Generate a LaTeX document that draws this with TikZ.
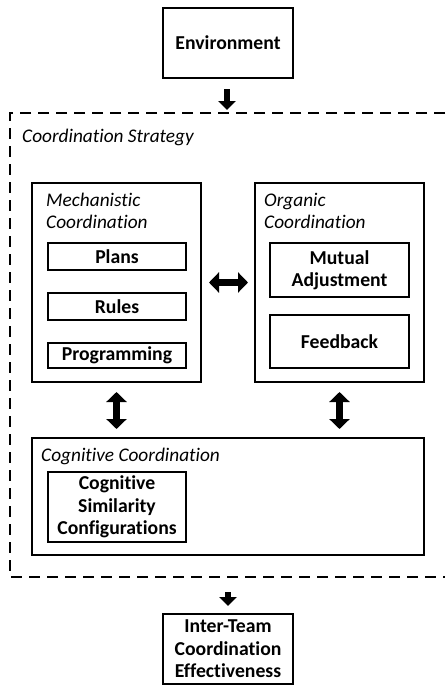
\documentclass[tikz,border=0pt]{standalone}
\usepackage{fontspec}
\setmainfont{Carlito}[Ligatures=NoCommon]
\usetikzlibrary{arrows.meta}

\begin{document}
\begin{tikzpicture}[x=1pt,y=-1pt,font=\fontsize{19.5}{22.5}\selectfont,
  box/.style={draw,line width=2pt,inner sep=0pt,align=center,font=\fontsize{19.7}{22.5}\selectfont\bfseries},
  outerbox/.style={draw,line width=2pt,inner sep=0pt},
  hdr/.style={inner sep=0pt,align=left,font=\fontsize{19.3}{22}\selectfont\itshape},
  blockarrow/.style={line width=6pt,-{Triangle[length=9pt,width=17pt]}},
  dblarrow/.style={line width=7pt,{Triangle[length=10pt,width=20pt]}-{Triangle[length=10pt,width=20pt]}}]

\useasboundingbox (0,0) rectangle (445,685);

\coordinate (top) at (227,113);
\coordinate (bot) at (228,577);

% coordination strategy frame, open to the right
\draw[line width=2pt,dash pattern=on 11pt off 7pt] (445,113) -- (10,113) -- (10,577) -- (445,577);
\node[hdr,anchor=base west] (strat) at (22,142) {Coordination Strategy};

\node[box,minimum width=130,minimum height=70] (env) at (228,43) {Environment};

\begin{scope}
\node[outerbox,minimum width=169,minimum height=199] (mech) at (116.5,282.5) {};
\node[hdr,anchor=north west] (mechlbl) at (46,193) {Mechanistic\\Coordination};
\node[box,minimum width=138,minimum height=27] (plans) at (117,256.5) {Plans};
\node[box,minimum width=138,minimum height=27] (rules) at (117,306.5) {Rules};
\node[box,minimum width=138,minimum height=25] (prog) at (117,355.5) {Programming};
\end{scope}

\begin{scope}
\node[outerbox,minimum width=169,minimum height=199] (org) at (339.5,282.5) {};
\node[hdr,anchor=north west] (orglbl) at (264,193) {Organic\\Coordination};
\node[box,minimum width=139,minimum height=54] (mutual) at (339.5,270) {Mutual\\Adjustment};
\node[box,minimum width=139,minimum height=53] (feedback) at (339.5,341.5) {Feedback};
\end{scope}

\begin{scope}
\node[outerbox,minimum width=392,minimum height=117] (cog) at (228,496.5) {};
\node[hdr,anchor=base west] (coglbl) at (41,461) {Cognitive Coordination};
\node[box,minimum width=138,minimum height=70] (csc) at (117,507) {Cognitive\\Similarity\\Configurations};
\end{scope}

\node[box,minimum width=130,minimum height=70] (result) at (228,649) {Inter-Team\\Coordination\\Effectiveness};

\draw[blockarrow,shorten <=10pt,shorten >=3pt] (env.south -| top) -- (top);
\draw[dblarrow,shorten <=7pt,shorten >=6pt] (mech) -- (org);
\draw[dblarrow,shorten <=9pt,shorten >=8pt] (mech.south) -- (mech.south |- cog.north);
\draw[dblarrow,shorten <=9pt,shorten >=8pt] (org.south) -- (org.south |- cog.north);
\draw[blockarrow,shorten <=15pt,shorten >=7pt] (bot) -- (result);

\end{tikzpicture}
\end{document}
